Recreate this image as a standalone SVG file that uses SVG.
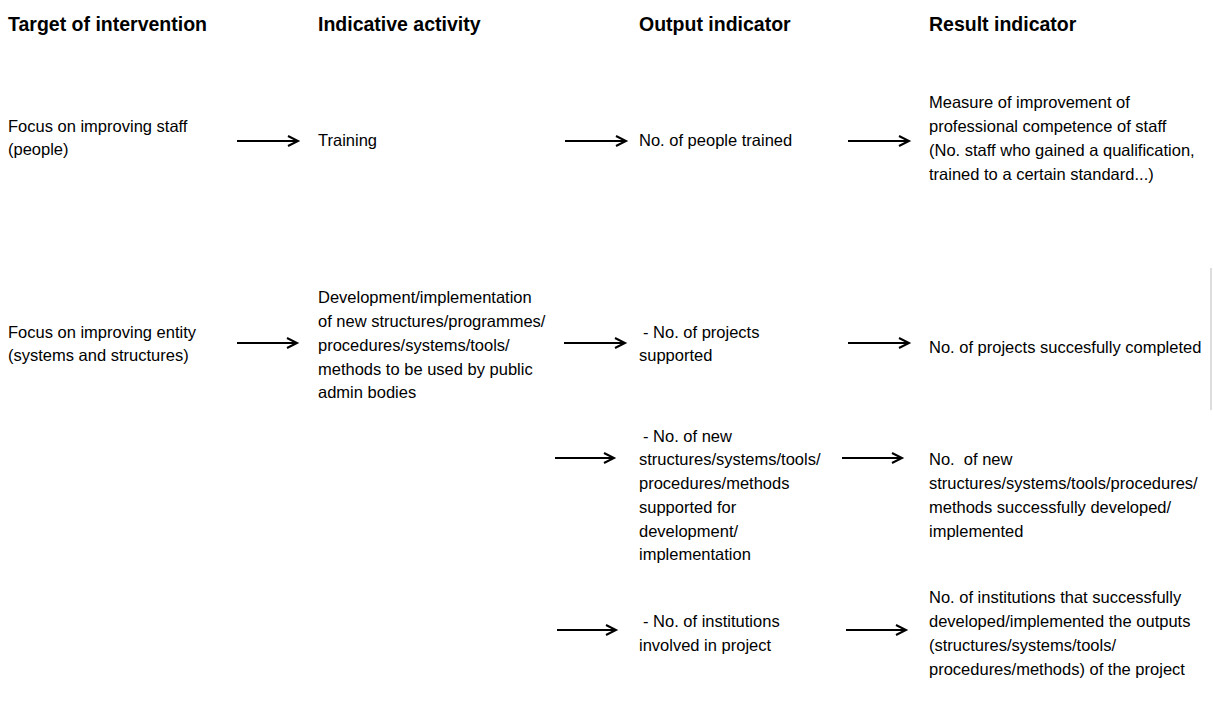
<svg xmlns="http://www.w3.org/2000/svg" width="1213" height="720" viewBox="0 0 1213 720">
<style>
text{font-family:"Liberation Sans",Arial,sans-serif;font-size:16.5px;fill:#000}
.h{font-weight:bold;font-size:19.5px}
.c{stroke:#000;stroke-width:2;fill:none;marker-end:url(#ah)}
</style>
<defs>
<marker id="ah" markerUnits="userSpaceOnUse" markerWidth="14" markerHeight="14" refX="11" refY="6" orient="auto">
<path d="M1,1 L11,6 L1,11" fill="none" stroke="#000" stroke-width="2"/>
</marker>
</defs>
<rect width="1213" height="720" fill="#fff"/>
<rect x="1210" y="268" width="2" height="142" fill="#ddd"/>
<g id="headers">
<text class="h" x="8" y="31">Target of intervention</text>
<text class="h" x="318" y="31">Indicative activity</text>
<text class="h" x="639" y="31">Output indicator</text>
<text class="h" x="929" y="31">Result indicator</text>
</g>
<g id="target-staff"><text x="8" y="132">Focus on improving staff</text><text x="8" y="155">(people)</text></g>
<g id="activity-training"><text x="318" y="146">Training</text></g>
<g id="output-people"><text x="639" y="146">No. of people trained</text></g>
<g id="result-competence"><text x="929" y="108">Measure of improvement of</text><text x="929" y="132">professional competence of staff</text><text x="929" y="156">(No. staff who gained a qualification,</text><text x="929" y="180">trained to a certain standard...)</text></g>
<g id="target-entity"><text x="8" y="338">Focus on improving entity</text><text x="8" y="361">(systems and structures)</text></g>
<g id="activity-development"><text x="318" y="303">Development/implementation</text><text x="318" y="327">of new structures/programmes/</text><text x="318" y="351">procedures/systems/tools/</text><text x="318" y="375">methods to be used by public</text><text x="318" y="398">admin bodies</text></g>
<g id="output-projects"><text x="643" y="338">- No. of projects</text><text x="639" y="361">supported</text></g>
<g id="result-projects"><text x="929" y="353">No. of projects succesfully completed</text></g>
<g id="output-new"><text x="643" y="442">- No. of new</text><text x="639" y="465">structures/systems/tools/</text><text x="639" y="489">procedures/methods</text><text x="639" y="513">supported for</text><text x="639" y="537">development/</text><text x="639" y="560">implementation</text></g>
<g id="result-new"><text x="929" y="465" xml:space="preserve">No.  of new</text><text x="929" y="489">structures/systems/tools/procedures/</text><text x="929" y="513">methods successfully developed/</text><text x="929" y="537">implemented</text></g>
<g id="output-institutions"><text x="643" y="627">- No. of institutions</text><text x="639" y="651">involved in project</text></g>
<g id="result-institutions"><text x="929" y="603">No. of institutions that successfully</text><text x="929" y="627">developed/implemented the outputs</text><text x="929" y="651">(structures/systems/tools/</text><text x="929" y="675">procedures/methods) of the project</text></g>
<g id="connectors">
<line class="c" x1="237" y1="141" x2="298" y2="141"/>
<line class="c" x1="565" y1="141" x2="626" y2="141"/>
<line class="c" x1="848" y1="141" x2="909" y2="141"/>
<line class="c" x1="237" y1="343" x2="297" y2="343"/>
<line class="c" x1="564" y1="343" x2="625" y2="343"/>
<line class="c" x1="848" y1="343" x2="909" y2="343"/>
<line class="c" x1="555" y1="458" x2="614" y2="458"/>
<line class="c" x1="842" y1="458" x2="902" y2="458"/>
<line class="c" x1="557" y1="630" x2="616" y2="630"/>
<line class="c" x1="846" y1="630" x2="906" y2="630"/>
</g>
</svg>
